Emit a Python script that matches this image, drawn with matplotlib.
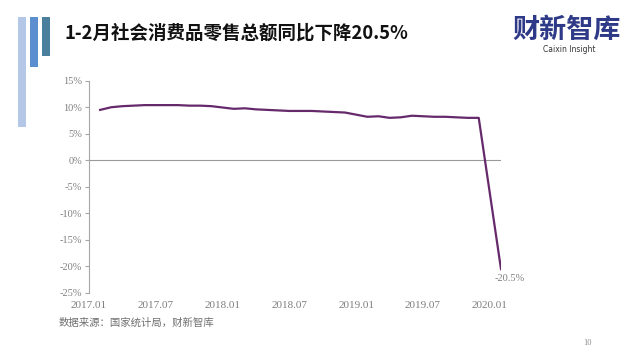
import matplotlib
matplotlib.use("Agg")
import matplotlib.pyplot as plt
from matplotlib.patches import Rectangle
import pandas as pd

# ---- data ----
months = ["2017-02", "2017-03", "2017-04", "2017-05", "2017-06", "2017-07", "2017-08",
          "2017-09", "2017-10", "2017-11", "2017-12",
          "2018-02", "2018-03", "2018-04", "2018-05", "2018-06", "2018-07", "2018-08",
          "2018-09", "2018-10", "2018-11", "2018-12",
          "2019-02", "2019-03", "2019-04", "2019-05", "2019-06", "2019-07", "2019-08",
          "2019-09", "2019-10", "2019-11", "2019-12",
          "2020-02"]
values = [9.5, 10.0, 10.2, 10.3, 10.4, 10.4, 10.4, 10.4, 10.3, 10.3, 10.2,
          9.7, 9.8, 9.6, 9.5, 9.4, 9.3, 9.3, 9.3, 9.2, 9.1, 9.0,
          8.2, 8.3, 8.0, 8.1, 8.4, 8.3, 8.2, 8.2, 8.1, 8.0, 8.0,
          -20.5]
tick_months = ["2017-01", "2017-07", "2018-01", "2018-07", "2019-01", "2019-07", "2020-01"]
tick_labels = ["2017.01", "2017.07", "2018.01", "2018.07", "2019.01", "2019.07", "2020.01"]
y_ticks = [15, 10, 5, 0, -5, -10, -15, -20, -25]
end_label = "-20.5%"

title = "1-2月社会消费品零售总额同比下降20.5%"
source = "数据来源：国家统计局，财新智库"

def month_index(s):
    p = pd.Period(s, freq="M")
    base = pd.Period("2017-01", freq="M")
    return (p - base).n

x = [month_index(m) for m in months]
xt = [month_index(m) for m in tick_months]

W, H = 640, 360
fig = plt.figure(figsize=(6.4, 3.6), dpi=100)
fig.patch.set_facecolor("white")

# decorative bars
for (bx, by1, by2, col) in [(18, 17, 127, "#b4c7e7"), (30, 17, 67, "#5b8fd0"), (42, 17, 56, "#4a7f9e")]:
    fig.add_artist(Rectangle((bx / W, 1 - by2 / H), 8 / W, (by2 - by1) / H,
                             transform=fig.transFigure, facecolor=col, edgecolor="none"))

fig.text(64 / W, 1 - 33 / H, title, fontsize=13.3, fontweight="bold",
         family=["Noto Sans CJK SC", "DejaVu Sans"], color="#111111", va="center", ha="left")

# logo
fig.text(567 / W, 1 - 30 / H, "财新智库", fontsize=19.5, fontweight="bold",
         family=["Noto Sans CJK SC"], color="#2e3a87", va="center", ha="center")
fig.text(569 / W, 1 - 50 / H, "Caixin Insight", fontsize=5.5,
         family=["DejaVu Sans"], color="#333333", va="center", ha="center")

ax = fig.add_axes([89 / W, 1 - 293 / H, (501 - 89) / W, (293 - 80.7) / H])
ax.plot(x, values, color="#66296b", lw=1.6, solid_joinstyle="round")
ax.axhline(0, color="#9a9a9a", lw=0.8, zorder=0)
ax.set_xlim(0, 37)
ax.set_ylim(-25, 15)
ax.set_yticks(y_ticks)
ax.set_yticklabels([f"{v}%" for v in y_ticks])
ax.set_xticks(xt)
ax.set_xticklabels(tick_labels)
for s in ["top", "right", "bottom"]:
    ax.spines[s].set_visible(False)
ax.spines["left"].set_color("#a6a6a6")
ax.spines["left"].set_linewidth(0.8)
ax.tick_params(axis="y", length=3, width=0.8, color="#a6a6a6", labelsize=7.5,
               labelcolor="#7f7f7f", pad=2)
ax.tick_params(axis="x", length=0, labelsize=8, labelcolor="#7f7f7f", pad=6)
for lab in ax.get_xticklabels() + ax.get_yticklabels():
    lab.set_family("Liberation Serif")

ax.annotate(end_label, (x[-1], values[-1]), xytext=(6, -6.5), textcoords="offset points",
            ha="center", va="center", fontsize=7.5, color="#7f7f7f", family="Liberation Serif")

fig.text(59 / W, 1 - 323 / H, source, fontsize=7.5, family=["Noto Sans CJK SC"],
         color="#707070", va="center", ha="left")
fig.text(587 / W, 1 - 343 / H, "10", fontsize=6, family="Liberation Serif",
         color="#8c8c8c", va="center", ha="center")

fig.savefig("out.png", dpi=100)
